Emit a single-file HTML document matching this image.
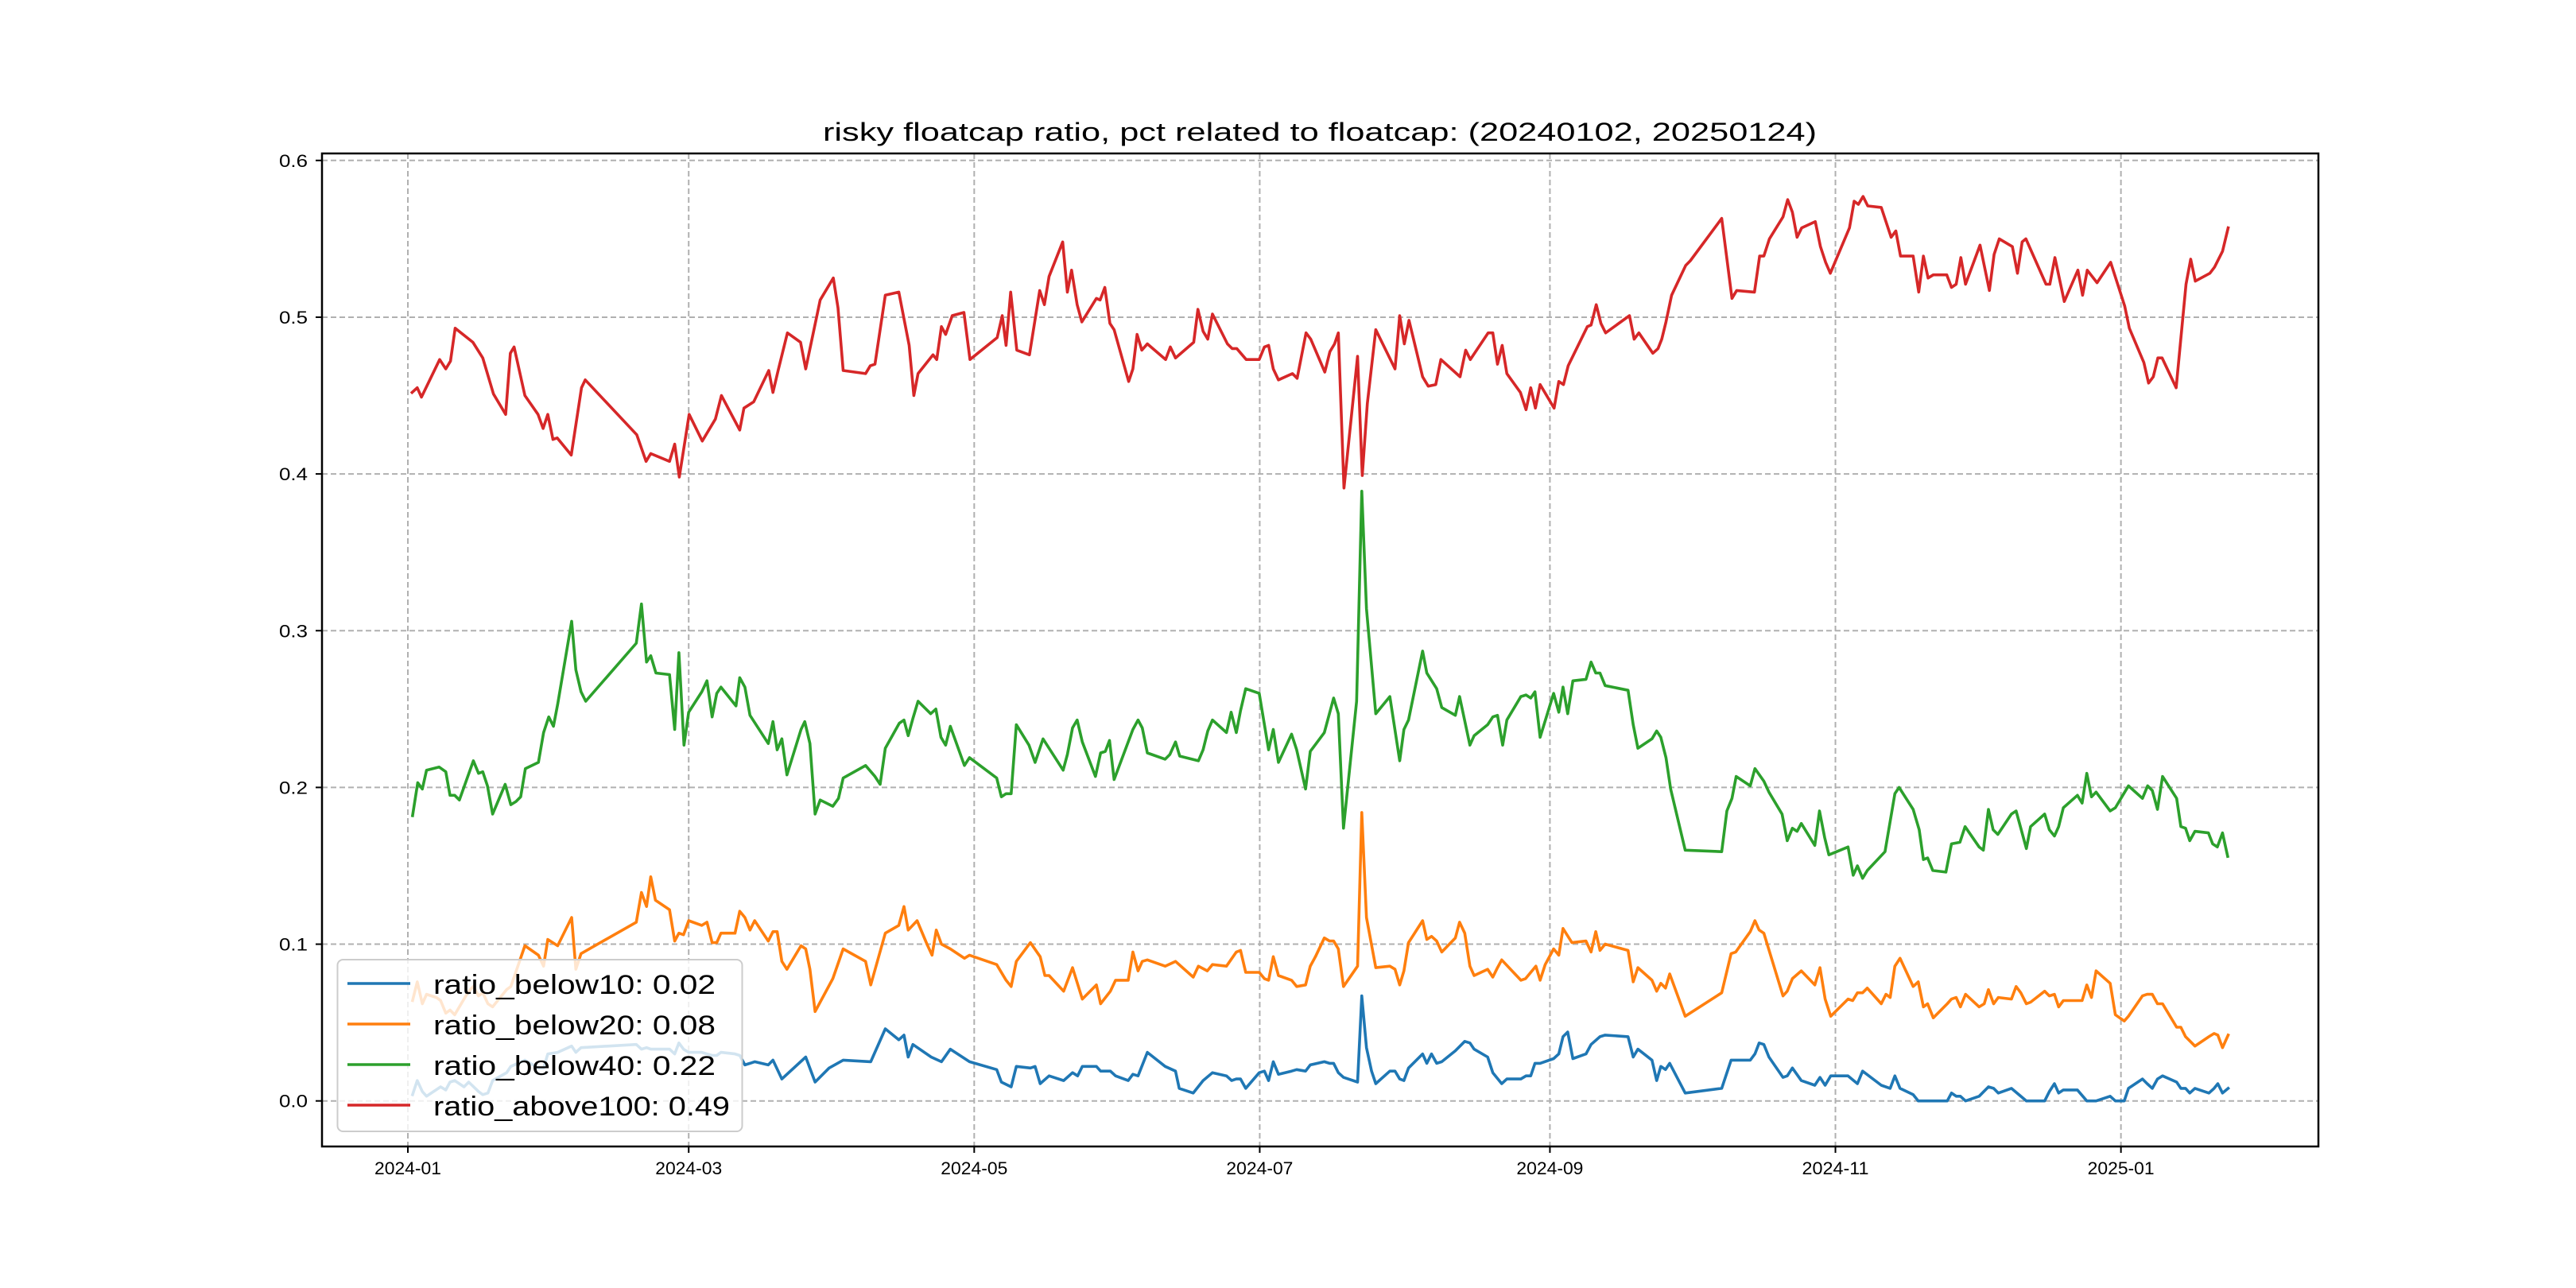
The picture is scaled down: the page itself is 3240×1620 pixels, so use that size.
<!DOCTYPE html>
<html><head><meta charset="utf-8"><style>
html,body{margin:0;padding:0;background:#fff;}
svg{display:block;font-family:"Liberation Sans","Noto Sans CJK SC",sans-serif;}
</style></head><body>
<svg id="chart" width="3240" height="1620" viewBox="0 0 3240 1620" xmlns="http://www.w3.org/2000/svg">
<rect x="0" y="0" width="3240" height="1620" fill="#fff"/>
<text x="1660" y="177" font-size="32" text-anchor="middle" textLength="1250" lengthAdjust="spacingAndGlyphs">risky floatcap ratio, pct related to floatcap: (20240102, 20250124)</text>
<g id="grid"></g>
<g id="series"></g>
<g id="axes"></g>
<g id="legend"></g>
</svg>
<script>
const xTickDays = [0, 60, 121, 182, 244, 305, 366];
const xTickLabels = ["2024-01","2024-03","2024-05","2024-07","2024-09","2024-11","2025-01"];
const yTicks = [0, 0.1, 0.2, 0.3, 0.4, 0.5, 0.6];
const yTickLabels = ["0.0","0.1","0.2","0.3","0.4","0.5","0.6"];
const seriesNames = ["ratio_below10: 0.02","ratio_below20: 0.08","ratio_below40: 0.22","ratio_above100: 0.49"];

const redDays = [0.9,2,2.9,6.8,8.1,9.1,10.1,13.9,16,18.3,20.9,21.9,22.7,25,27.8,28.9,29.9,31,31.9,34.9,37.1,37.9,48.9,50.9,51.9,55.9,57,58,60.1,62.9,65.7,67,70.9,71.8,73.9,77.1,78,79.1,81.1,83.9,85,88.1,90.9,91.9,93,97.8,98.8,99.8,102,104.9,107.1,108.1,109,112.2,113,114,114.9,116.3,118.8,120.1,125.9,127,127.8,128.8,130.1,132.8,135,136,137,139.9,140.9,141.8,143,144,147.1,147.9,148.9,150,150.9,154,154.9,155.8,156.8,158,161.9,162.9,164,167.9,168.8,169.9,170.9,171.9,175.1,176.1,177.1,179.1,181.9,183,183.9,184.9,186,189,190,191.9,192.9,195.9,197,198,198.8,200,202.9,203.9,205,206.8,210.9,211.9,212.9,213.9,216.8,218,219.6,220.7,224.8,226,227,230.8,231.8,232.8,233.8,234.8,237.7,238.9,239.9,240.9,241.9,244.9,245.9,246.9,247.9,252,252.8,253.9,254.9,255.9,261,262,263,266,267.1,267.9,268.8,270,273,274,280.7,282.9,283.9,287.7,288.8,289.7,290.9,293.8,294.8,295.8,296.8,297.8,300.7,301.8,302.9,303.9,308,309,309.9,310.9,311.9,314.8,316.9,317.9,318.9,321.6,322.8,323.8,324.8,325.9,328.8,329.8,330.8,331.8,332.8,335.9,337.9,338.9,340,342.8,343.9,344.9,345.7,350,350.8,351.9,353.9,356.8,357.8,358.8,360.9,363.8,366.8,367.8,370.9,371.9,372.9,373.9,374.8,377.8,379.9,380.9,381.9,385,386,387.7,388.9];
const redVals = [.452,.455,.449,.473,.467,.472,.493,.484,.474,.451,.438,.477,.481,.450,.438,.429,.438,.422,.423,.412,.455,.460,.425,.408,.413,.408,.419,.398,.438,.421,.435,.450,.428,.442,.446,.466,.452,.466,.490,.484,.467,.511,.525,.506,.466,.464,.469,.470,.514,.516,.482,.450,.464,.476,.473,.494,.489,.501,.503,.473,.487,.501,.482,.516,.479,.476,.517,.508,.526,.548,.516,.530,.508,.497,.512,.511,.519,.496,.492,.459,.467,.489,.479,.483,.473,.481,.474,.484,.505,.491,.486,.502,.483,.480,.480,.473,.473,.481,.482,.467,.460,.464,.461,.490,.486,.465,.478,.483,.490,.391,.475,.399,.445,.492,.467,.501,.483,.498,.462,.456,.457,.473,.462,.479,.473,.490,.490,.470,.482,.464,.452,.441,.455,.442,.457,.442,.459,.457,.469,.494,.495,.508,.496,.490,.501,.486,.490,.477,.480,.486,.497,.514,.533,.536,.563,.512,.517,.516,.539,.539,.550,.564,.575,.567,.551,.557,.561,.545,.535,.528,.557,.574,.572,.577,.571,.570,.551,.555,.539,.539,.516,.539,.525,.527,.527,.519,.521,.538,.521,.546,.517,.540,.550,.545,.528,.548,.550,.521,.521,.538,.510,.530,.514,.530,.522,.535,.507,.493,.471,.458,.462,.474,.474,.455,.521,.537,.523,.528,.532,.542,.557];

const greenDays = [1,2.1,3.1,4,6.7,8.1,9,10,11,14,15.1,16,17,18.1,20.8,22,23.1,24.1,25.1,27.9,29,30.1,31.1,32,35,35.9,37,38,48.8,49.9,51,51.9,53,55.9,57,57.9,59,60,62.8,63.9,65,66,66.9,70.1,70.9,72,73.1,77,78,78.9,79.9,81,84,84.8,85.9,87,88.1,90.8,92,93,97.8,99.8,100.9,102,105,106,106.9,107.9,109,111.7,112.8,113.9,114.9,115.9,118.9,120,125.8,126.8,127.8,128.9,130,132.7,134,135.7,140,140.9,142,143,144.1,146.9,148,149,149.9,150.9,154.9,156,156.9,158,161.8,162.8,164,164.9,168.9,169.9,170.9,171.9,174.9,175.9,177,177.9,179,181.9,183.9,184.9,186,188.8,189.9,191.8,192.8,195.8,197.8,198.8,199.9,202.7,203.8,204.8,206.8,209.8,211.9,212.8,213.8,216.8,217.7,219.8,220.9,223.8,224.7,226.9,227.8,230.7,231.8,232.8,233.9,234.8,237.8,238.9,239.9,240.8,241.9,244.8,245.9,246.8,247.8,248.9,251.7,252.8,253.8,254.7,255.8,260.7,261.8,262.8,265.8,266.8,267.7,268.8,269.8,272.9,280.7,281.8,282.9,283.8,286.8,287.8,289.7,290.8,293.6,294.7,295.8,296.8,297.7,300.6,301.6,302.7,303.6,307.7,308.8,309.7,310.8,311.8,315.6,317.7,318.6,321.6,322.9,323.8,324.7,325.8,328.6,329.8,331.6,332.7,335.7,336.6,337.7,338.7,339.7,342.6,343.6,345.8,346.7,349.7,350.7,351.8,352.7,353.7,356.7,357.7,358.7,359.7,360.7,363.7,364.8,367.6,370.6,371.7,372.7,373.8,374.9,377.9,378.8,379.8,380.7,381.8,384.7,385.6,386.6,387.7,388.8];
const greenVals = [.182,.203,.199,.211,.213,.210,.195,.195,.192,.217,.209,.210,.201,.183,.202,.189,.191,.194,.212,.216,.235,.245,.239,.253,.306,.275,.261,.255,.292,.317,.280,.284,.273,.272,.237,.286,.227,.248,.261,.268,.245,.260,.264,.252,.270,.264,.246,.228,.242,.224,.231,.208,.237,.242,.228,.183,.192,.188,.193,.206,.214,.207,.202,.225,.241,.243,.233,.244,.255,.247,.250,.232,.227,.239,.214,.219,.206,.194,.196,.196,.240,.227,.216,.231,.211,.221,.238,.243,.229,.207,.222,.223,.230,.205,.237,.243,.238,.222,.218,.221,.229,.220,.217,.224,.236,.243,.235,.248,.235,.249,.263,.260,.224,.237,.216,.234,.224,.199,.223,.235,.257,.247,.174,.255,.389,.314,.247,.258,.217,.237,.243,.287,.273,.263,.251,.246,.258,.227,.233,.240,.245,.246,.227,.243,.258,.259,.257,.261,.232,.260,.248,.264,.247,.268,.269,.280,.273,.273,.265,.262,.240,.225,.231,.236,.232,.219,.199,.160,.159,.185,.193,.207,.201,.212,.204,.197,.183,.166,.174,.172,.177,.163,.185,.168,.157,.162,.144,.150,.142,.147,.159,.196,.200,.186,.173,.154,.155,.147,.146,.164,.165,.175,.162,.160,.186,.173,.170,.183,.185,.161,.175,.183,.173,.169,.175,.187,.195,.190,.209,.194,.197,.185,.187,.201,.193,.201,.198,.186,.207,.193,.175,.174,.166,.172,.171,.164,.162,.171,.156];

const orangeDays = [1,2,3.1,4,6.1,7,8.1,9,10,13,14,15.1,16,17.1,18.1,21.1,22,25,27.9,29,29.9,32,35,35.9,37,48.8,49.9,51,51.9,52.9,55.9,57,57.9,58.9,60,62.8,63.9,65,66,66.9,69.9,70.9,72,73.1,74.1,77,78,78.9,79.9,81,84,85,85.9,87,90.8,93,97.8,98.9,102,104.9,106,106.9,108.8,110.9,112,112.9,114,115.9,118.9,120,125.8,127.8,128.9,130,133,135.1,136.1,137,140.1,142,144.1,147.1,148,150.1,151.2,153.9,154.9,156,156.9,158,161.8,164,167.8,168.9,170.8,171.9,174.9,177,177.9,179,181.9,183,183.9,184.9,186,188.8,189.9,191.8,192.8,193.9,195.8,196.9,197.8,198.8,199.9,202.9,203.8,204.8,206.8,209.8,210.9,211.9,212.8,213.8,216.8,217.7,218.7,219.8,220.9,223.8,224.7,225.8,226.9,227.8,230.7,231.8,232.8,233.7,237.8,238.8,241,241.9,243,244.8,245.9,246.8,248.7,251.7,252.8,253.8,254.7,255.8,260.7,261.8,262.8,265.8,266.8,267.7,268.7,269.6,272.9,280.7,282.7,283.7,286.8,287.8,288.7,289.7,293.8,294.7,295.8,297.7,300.6,301.7,302.8,304,307.7,308.7,309.7,310.8,311.8,314.8,315.8,316.7,317.7,318.8,321.6,322.7,323.8,324.7,325.9,328.9,329.8,330.8,331.7,332.8,335.7,336.8,337.7,338.8,339.8,342.6,343.6,344.6,345.8,346.7,349.7,350.7,351.8,352.7,353.7,357.7,358.7,359.7,360.7,363.7,364.8,366.7,367.6,370.6,371.6,372.7,373.8,374.9,377.9,378.8,379.8,381.8,384.8,385.9,386.7,387.7,388.9];
const orangeVals = [.064,.076,.062,.068,.066,.064,.056,.058,.055,.070,.073,.067,.069,.062,.060,.071,.073,.099,.093,.086,.103,.099,.117,.084,.094,.114,.133,.124,.143,.128,.122,.102,.107,.106,.115,.112,.114,.101,.101,.107,.107,.121,.117,.109,.115,.102,.108,.108,.089,.084,.099,.097,.084,.057,.078,.097,.089,.074,.107,.112,.124,.109,.115,.100,.093,.109,.100,.097,.091,.093,.087,.077,.073,.089,.101,.092,.080,.080,.070,.085,.065,.074,.062,.070,.077,.077,.095,.083,.089,.090,.086,.089,.079,.086,.083,.087,.086,.095,.096,.082,.082,.078,.077,.092,.080,.077,.073,.074,.086,.092,.104,.102,.102,.097,.073,.086,.184,.117,.085,.086,.084,.074,.083,.101,.115,.103,.105,.102,.095,.104,.114,.107,.086,.080,.084,.079,.085,.090,.077,.078,.086,.077,.087,.097,.093,.110,.101,.102,.095,.108,.096,.100,.096,.076,.085,.077,.070,.075,.072,.081,.054,.069,.094,.095,.108,.115,.109,.107,.067,.070,.078,.083,.074,.085,.065,.054,.065,.064,.069,.069,.072,.062,.068,.066,.086,.091,.073,.076,.060,.062,.053,.062,.065,.066,.060,.068,.060,.062,.071,.062,.066,.065,.073,.069,.062,.063,.070,.067,.068,.060,.064,.064,.074,.066,.083,.075,.055,.051,.054,.067,.068,.068,.062,.062,.047,.047,.041,.035,.041,.043,.042,.034,.042];

const blueDays = [1,2,3.1,4,7,8.1,9,10,12,13,15.1,16,17.1,18.1,21.1,22,25,27.9,29,29.9,32,35,35.9,37,48.8,49.9,51,51.9,52.9,55.9,57,57.9,58.9,60,62.8,63.9,65,66,66.9,69.9,70.9,72,73.1,74.1,77,78,79.9,85,87,90,93,98.9,102,104.9,106,106.9,107.9,111.8,114,115.9,120,125.8,126.8,128.9,130,133,134,135.1,137,140.1,142,143.1,144.1,147.1,148,150.1,151.2,153.9,154.9,156,158,161.8,164,164.8,167.8,169.9,171.9,174.9,176,177,177.9,179,181.9,183,183.9,184.9,186,188.8,189.9,191.8,192.8,195.8,196.9,197.8,198.8,199.9,202.9,203.8,204.8,205.9,206.8,209.8,210.9,211.9,212.8,213.8,216.8,217.7,218.7,219.8,220.9,223.8,225.8,226.9,227.8,230.7,231.8,233.7,234.8,237.8,238.9,239.9,240.8,241.9,244.8,245.9,246.8,247.8,248.9,251.7,252.8,254.7,255.8,260.7,261.8,262.8,265.8,266.8,267.7,268.7,269.6,272.9,280.7,282.7,286.8,287.8,288.7,289.7,290.8,293.8,294.7,295.8,297.7,300.6,301.7,302.8,304,307.7,309.7,310.8,314.8,316.7,317.7,318.8,321.6,322.7,328.9,329.8,330.8,331.7,332.8,335.7,337.7,338.8,339.8,342.6,345.8,349.7,350.7,351.8,352.7,353.7,356.7,358.7,360.7,363.7,364.8,366.7,367.6,370.6,371.6,372.7,373.8,374.9,377.9,378.8,379.8,380.7,381.8,384.8,385.9,386.7,387.7,388.9];
const blueVals = [.004,.013,.006,.003,.009,.007,.012,.013,.009,.012,.006,.004,.005,.013,.018,.022,.026,.021,.021,.030,.031,.035,.031,.034,.036,.033,.034,.033,.033,.033,.030,.037,.033,.031,.031,.030,.029,.029,.031,.030,.029,.023,.024,.025,.023,.026,.014,.028,.012,.021,.026,.025,.046,.039,.042,.028,.036,.028,.025,.033,.025,.020,.012,.009,.022,.021,.022,.011,.016,.013,.018,.016,.022,.022,.019,.019,.016,.013,.017,.016,.031,.022,.019,.008,.005,.013,.018,.016,.013,.014,.014,.008,.018,.019,.013,.025,.017,.019,.020,.019,.023,.025,.024,.024,.018,.015,.012,.067,.034,.019,.011,.019,.019,.014,.013,.021,.030,.024,.030,.024,.025,.032,.038,.037,.033,.028,.018,.011,.014,.014,.016,.016,.024,.024,.027,.030,.041,.044,.027,.030,.036,.041,.042,.041,.028,.033,.026,.013,.022,.020,.024,.005,.008,.026,.026,.030,.037,.036,.028,.015,.016,.021,.013,.010,.015,.010,.016,.016,.011,.019,.010,.008,.016,.008,.004,.000,.000,.005,.003,.003,.000,.003,.009,.008,.005,.008,.000,.000,.006,.011,.005,.007,.007,.000,.000,.003,.000,.000,.008,.014,.011,.008,.014,.016,.012,.008,.008,.005,.008,.005,.008,.011,.005,.008];

const NS = "http://www.w3.org/2000/svg";
const PL = 405, PR = 2916, PT = 193, PB = 1442;
function xScale(d){ return 513 + d * 5.887; }
function yScale(v){ return 1384.7 - v * 1971.5; }
function mk(tag, attrs, parent){
  const e = document.createElementNS(NS, tag);
  for (const k in attrs) e.setAttribute(k, attrs[k]);
  parent.appendChild(e);
  return e;
}
const grid = document.getElementById('grid');
const axes = document.getElementById('axes');
const seriesG = document.getElementById('series');
const legend = document.getElementById('legend');

yTicks.forEach((v, i) => {
  const y = yScale(v);
  const gl = mk('line', {x1: PL, x2: PR, y1: y, y2: y, stroke: '#b0b0b0', 'stroke-width': 2, 'stroke-dasharray': '7,4'}, grid);
  
  
  const tk = mk('line', {x1: PL - 8, x2: PL, y1: y, y2: y, stroke: '#000', 'stroke-width': 2}, axes);
  
  
  const t = mk('text', {x: 387, y: y + 8, 'font-size': 22, 'text-anchor': 'end', textLength: 36, lengthAdjust: 'spacingAndGlyphs'}, axes);
  t.textContent = yTickLabels[i];
  
  
});
xTickDays.forEach((d, i) => {
  const x = xScale(d);
  const gl = mk('line', {x1: x, x2: x, y1: PT, y2: PB, stroke: '#b0b0b0', 'stroke-width': 2, 'stroke-dasharray': '7,4'}, grid);
  
  
  const tk = mk('line', {x1: x, x2: x, y1: PB, y2: PB + 8, stroke: '#000', 'stroke-width': 2}, axes);
  
  
  const t = mk('text', {x: x, y: 1477, 'font-size': 22, 'text-anchor': 'middle', textLength: 84, lengthAdjust: 'spacingAndGlyphs'}, axes);
  t.textContent = xTickLabels[i];
  
  
});
const frame = mk('rect', {x: PL, y: PT, width: PR - PL, height: PB - PT, fill: 'none', stroke: '#000', 'stroke-width': 2.5}, axes);



const seriesList = [
  {days: blueDays, vals: blueVals, color: '#1f77b4', name: 'line-ratio-below10'},
  {days: orangeDays, vals: orangeVals, color: '#ff7f0e', name: 'line-ratio-below20'},
  {days: greenDays, vals: greenVals, color: '#2ca02c', name: 'line-ratio-below40'},
  {days: redDays, vals: redVals, color: '#d62728', name: 'line-ratio-above100'}
];
seriesList.forEach(s => {
  const pts = s.days.map((d, i) => xScale(d).toFixed(1) + ',' + yScale(s.vals[i]).toFixed(1)).join(' ');
  const pl = mk('polyline', {points: pts, fill: 'none', stroke: s.color, 'stroke-width': 3.6, 'stroke-linejoin': 'round', 'stroke-linecap': 'square'}, seriesG);
  
  
});

const lbox = mk('rect', {x: 424.5, y: 1207, width: 509, height: 216, rx: 7, fill: 'rgba(255,255,255,0.8)', stroke: '#cccccc', 'stroke-width': 2}, legend);


const legendRowY = [1237, 1288, 1339, 1390];
const legendColors = ['#1f77b4','#ff7f0e','#2ca02c','#d62728'];
const legendWidths = [355, 355, 355, 373];
seriesNames.forEach((n, i) => {
  const y = legendRowY[i];
  const ln = mk('line', {x1: 437, x2: 516, y1: y, y2: y, stroke: legendColors[i], 'stroke-width': 3.6}, legend);
  
  
  const t = mk('text', {x: 545, y: y + 13, 'font-size': 34, textLength: legendWidths[i], lengthAdjust: 'spacingAndGlyphs'}, legend);
  t.textContent = n;
  
  
});
</script>
</body></html>
